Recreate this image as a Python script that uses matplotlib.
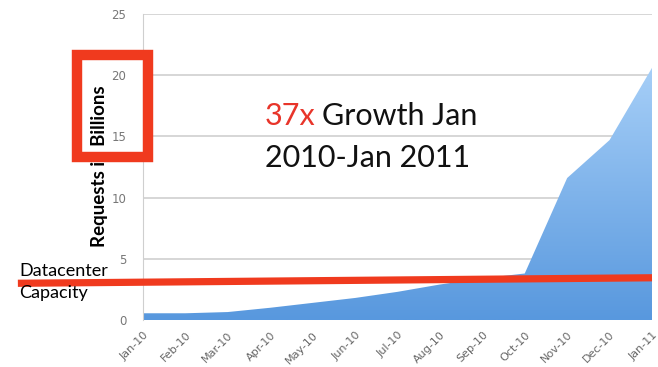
import numpy as np
import matplotlib.pyplot as plt
from matplotlib.patches import Rectangle, Polygon
from matplotlib.colors import LinearSegmentedColormap

months = ['Jan-10', 'Feb-10', 'Mar-10', 'Apr-10', 'May-10', 'Jun-10', 'Jul-10',
          'Aug-10', 'Sep-10', 'Oct-10', 'Nov-10', 'Dec-10', 'Jan-11']
requests = [0.55, 0.55, 0.65, 1.0, 1.4, 1.8, 2.3, 2.9, 3.4, 3.8, 11.6, 14.7, 20.6]
capacity = [3.0, 3.45]   # red line, left end / right end

fig = plt.figure(figsize=(6.58, 3.67), dpi=100)
ax = fig.add_axes([143/658, 47/367, 509/658, 306/367])

x = np.arange(len(months))

# gradient filled area
cmap = LinearSegmentedColormap.from_list('blu', ['#5898de', '#a8d0f8'])
grad = np.linspace(0, 1, 256).reshape(-1, 1)
im = ax.imshow(grad, extent=[0, 12, 0, 21], origin='lower', aspect='auto',
               cmap=cmap, zorder=2)
verts = list(zip(x, requests)) + [(12, 0), (0, 0)]
poly = Polygon(verts, closed=True, facecolor='none', edgecolor='none')
ax.add_patch(poly)
im.set_clip_path(poly)
ax.set_xlim(0, 12)
ax.set_ylim(0, 25)

ax.set_yticks([0, 5, 10, 15, 20, 25])
ax.grid(axis='y', color='#cfcfcf', lw=1.2, zorder=1)
ax.set_axisbelow(True)
for s in ['top', 'right', 'bottom']:
    ax.spines[s].set_visible(False)
ax.spines['left'].set_color('#cfcfcf')
ax.tick_params(axis='y', length=0, colors='#777777', labelsize=8.5, pad=12)
ax.set_xticks(x)
ax.set_xticklabels(months, rotation=45, ha='right', rotation_mode='anchor',
                   fontsize=8, color='#666666')
ax.tick_params(axis='x', length=0, pad=7)

fig.text(100/658, 1 - 166/367, 'Requests in Billions', fontsize=13.5,
         fontweight='bold', family='Lato', rotation=90, ha='center', va='center')

# datacenter capacity line
ax.plot([-2.95, 12], capacity, color='#f03a1e', lw=5.2, clip_on=False,
        zorder=5, solid_capstyle='butt')
fig.text(19/658, 1 - 271/367, 'Datacenter', fontsize=13, family='Lato',
         va='center', ha='left')
fig.text(19/658, 1 - 293/367, 'Capacity', fontsize=13, family='Lato',
         va='center', ha='left')

# highlight box round "Billions"
fig.add_artist(Rectangle((76.5/658, 1 - 157/367), 71.5/658, 102/367,
                         transform=fig.transFigure, fill=False,
                         edgecolor='#f03a1e', lw=7.5, zorder=10))

t = ax.text(0.239, 0.637, '37x', transform=ax.transAxes, fontsize=22,
            family='Lato', color='#e8352a', va='baseline')
fig.canvas.draw()
bb = t.get_window_extent().transformed(ax.transAxes.inverted())
ax.text(bb.x1 + 0.012, 0.637, 'Growth Jan', transform=ax.transAxes,
        fontsize=22, family='Lato', color='#111111', va='baseline')
ax.text(0.239, 0.50, '2010-Jan 2011', transform=ax.transAxes, fontsize=22,
        family='Lato', color='#111111', va='baseline')

fig.savefig('out.png', dpi=100)
